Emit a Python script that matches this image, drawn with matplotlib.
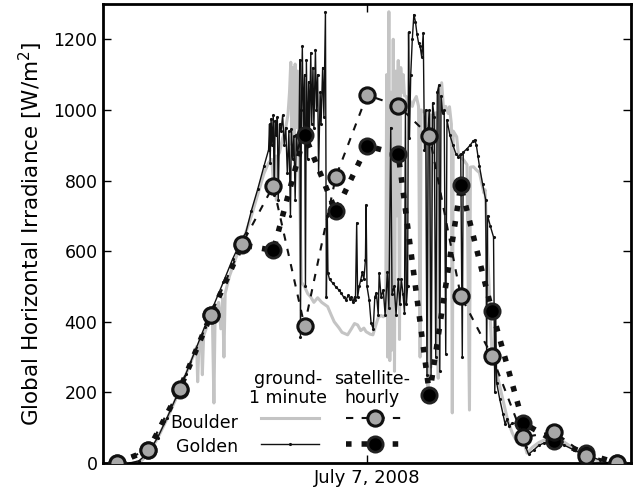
import numpy as np
import matplotlib
matplotlib.use("Agg")
import matplotlib.pyplot as plt

# hourly satellite estimates (local hour)
sat_hours = [5, 6, 7, 8, 9, 10, 11, 12, 13, 14, 15, 16, 17, 18, 19, 20, 21]
sat_boulder = [0, 38, 210, 420, 620, 785, 388, 810, 1042, 1012, 926, 473, 303, 73, 88, 21, 0]
sat_golden = [0, 36, 208, 418, 618, 602, 930, 713, 898, 875, 194, 786, 431, 113, 63, 27, 0]

boulder_ground = [
    (5.55, 0), (5.8, 8), (6.0, 25), (6.3, 70), (6.6, 125), (6.9, 185), (7.2, 250),
    (7.45, 305), (7.55, 330), (7.58, 230), (7.62, 335), (7.7, 355), (7.73, 250),
    (7.77, 360), (7.85, 380), (7.95, 405), (8.05, 420), (8.1, 170), (8.14, 430),
    (8.25, 455), (8.32, 380), (8.38, 465), (8.42, 300), (8.46, 480), (8.6, 530),
    (8.8, 580), (9.0, 625), (9.12, 652), (9.3, 700), (9.5, 760), (9.7, 820),
    (9.85, 850), (9.95, 860), (10.0, 800), (10.05, 870), (10.1, 745), (10.13, 868),
    (10.2, 880), (10.3, 920), (10.4, 950), (10.47, 986), (10.52, 1050), (10.56, 1135),
    (10.6, 900), (10.63, 1120), (10.67, 870), (10.7, 1130), (10.74, 950), (10.78, 1110),
    (10.82, 868), (10.86, 700), (10.9, 512), (11.0, 500), (11.1, 480), (11.2, 470),
    (11.3, 455), (11.42, 468), (11.55, 455), (11.74, 443), (11.85, 420), (11.95, 400),
    (12.1, 383), (12.2, 370), (12.38, 363), (12.5, 380), (12.6, 395), (12.7, 391),
    (12.8, 375), (12.9, 382), (12.97, 372), (13.1, 365), (13.19, 363), (13.28, 390),
    (13.36, 412), (13.45, 418), (13.52, 414), (13.6, 420), (13.63, 1100), (13.66, 300),
    (13.7, 1278), (13.73, 290), (13.77, 1050), (13.8, 320), (13.84, 1200), (13.88, 260),
    (13.92, 1110), (13.96, 700), (14.0, 1140), (14.04, 350), (14.08, 1120), (14.12, 1050),
    (14.16, 1100), (14.2, 1040), (14.26, 1038), (14.3, 1020), (14.36, 1029), (14.45, 1010),
    (14.5, 1025), (14.58, 1038), (14.65, 1010), (14.7, 300), (14.73, 1000), (14.8, 995),
    (14.9, 992), (14.95, 180), (14.98, 990), (15.05, 272), (15.08, 985), (15.15, 990),
    (15.22, 992), (15.28, 240), (15.31, 990), (15.39, 1077), (15.45, 1000), (15.52, 1010),
    (15.6, 990), (15.64, 1009), (15.7, 960), (15.73, 142), (15.76, 940), (15.87, 924),
    (15.92, 878), (16.0, 865), (16.09, 859), (16.2, 845), (16.28, 150), (16.31, 838),
    (16.41, 839), (16.5, 830), (16.6, 822), (16.74, 765), (16.78, 774), (16.83, 652),
    (16.9, 520), (16.95, 400), (17.0, 312), (17.15, 255), (17.3, 198), (17.5, 122),
    (17.65, 85), (17.8, 60), (17.96, 78), (18.12, 28), (18.3, 45), (18.5, 58),
    (18.8, 70), (19.0, 75), (19.3, 60), (19.6, 42), (19.9, 25), (20.2, 12),
    (20.5, 3), (20.7, 0),
]

golden_ground = [
    (5.4, 0), (5.7, 6), (6.0, 30), (6.3, 72), (6.6, 128), (6.9, 188), (7.2, 252),
    (7.5, 318), (7.8, 385), (8.1, 448), (8.4, 512), (8.7, 578), (9.0, 635), (9.12, 652),
    (9.3, 715), (9.5, 775), (9.7, 840), (9.85, 887), (9.88, 960), (9.9, 850), (9.93, 975),
    (9.96, 900), (10.0, 985), (10.03, 760), (10.06, 970), (10.1, 930), (10.13, 980),
    (10.16, 745), (10.2, 960), (10.25, 940), (10.3, 985), (10.35, 900), (10.4, 950),
    (10.45, 820), (10.5, 940), (10.55, 700), (10.58, 945), (10.62, 860), (10.66, 925),
    (10.7, 745), (10.74, 930), (10.78, 880), (10.82, 900), (10.85, 1142), (10.87, 357),
    (10.9, 1000), (10.93, 1180), (10.96, 950), (11.0, 1100), (11.03, 500), (11.06, 1142),
    (11.1, 860), (11.13, 1080), (11.16, 940), (11.2, 1162), (11.23, 960), (11.27, 1120),
    (11.3, 950), (11.35, 1171), (11.38, 1000), (11.42, 1100), (11.45, 820), (11.5, 1050),
    (11.53, 960), (11.58, 1120), (11.62, 980), (11.67, 1278), (11.7, 470), (11.73, 700),
    (11.75, 538), (11.8, 520), (11.9, 510), (12.0, 499), (12.1, 490), (12.17, 482),
    (12.25, 470), (12.33, 462), (12.4, 475), (12.45, 465), (12.5, 470), (12.55, 455),
    (12.6, 470), (12.63, 462), (12.67, 680), (12.7, 470), (12.75, 500), (12.8, 519),
    (12.85, 540), (12.9, 520), (12.95, 575), (12.97, 731), (13.0, 500), (13.07, 462),
    (13.13, 397), (13.2, 380), (13.25, 470), (13.3, 482), (13.36, 420), (13.39, 538),
    (13.45, 470), (13.52, 490), (13.58, 420), (13.65, 540), (13.7, 440), (13.76, 950),
    (13.8, 480), (13.87, 500), (13.93, 420), (14.0, 520), (14.05, 450), (14.1, 520),
    (14.15, 480), (14.2, 425), (14.23, 1000), (14.26, 450), (14.3, 500), (14.33, 1220),
    (14.36, 920), (14.4, 1100), (14.45, 1200), (14.5, 1270), (14.55, 1250), (14.6, 1215),
    (14.65, 1190), (14.7, 1180), (14.75, 1150), (14.8, 1218), (14.84, 887), (14.88, 1000),
    (14.92, 250), (14.96, 950), (15.0, 1000), (15.05, 240), (15.1, 1020), (15.15, 980),
    (15.2, 300), (15.25, 1050), (15.3, 1070), (15.33, 260), (15.37, 1040), (15.42, 990),
    (15.47, 1000), (15.52, 310), (15.56, 972), (15.65, 930), (15.75, 900), (15.85, 875),
    (15.92, 868), (16.0, 875), (16.05, 300), (16.08, 880), (16.2, 890), (16.3, 900),
    (16.4, 912), (16.45, 915), (16.5, 900), (16.55, 870), (16.6, 840), (16.7, 790),
    (16.8, 745), (16.83, 292), (16.86, 700), (16.95, 670), (17.05, 640), (17.09, 200),
    (17.12, 420), (17.15, 227), (17.25, 180), (17.35, 140), (17.42, 110), (17.48, 125),
    (17.55, 105), (17.65, 112), (17.8, 113), (17.96, 85), (18.08, 45), (18.17, 25),
    (18.34, 37), (18.5, 50), (18.65, 56), (18.98, 65), (19.3, 51), (19.62, 37),
    (20.0, 23), (20.47, 8), (20.7, 0),
]

bt, bv = np.array(boulder_ground).T
gt, gv = np.array(golden_ground).T

plt.rcParams['font.family'] = ['DejaVu Sans']
plt.rcParams['font.size'] = 12.5

fig = plt.figure(figsize=(6.38, 4.92), dpi=100)
ax = fig.add_axes([103 / 638, 1 - 463 / 492, 528 / 638, 459 / 492])

gray_line, = ax.plot(bt, bv, color='#c4c4c4', lw=2.2, zorder=1)
black_line, = ax.plot(gt, gv, color='#111111', lw=1.0, marker='.', ms=2.5, zorder=2)
sat_g, = ax.plot(sat_hours, sat_golden, color='#111111', lw=4,
                 linestyle=(0, (1, 1.8)), dash_capstyle='butt',
                 marker='o', ms=11, mfc='black', mec='#222222', mew=2, zorder=3)
sat_b, = ax.plot(sat_hours, sat_boulder, color='#111111', lw=1.5,
                 linestyle=(0, (3.5, 4)), marker='o', ms=11, mfc='#a8a8a8',
                 mec='#111111', mew=2.2, zorder=4)

ax.set_xlim(4.55, 21.45)
ax.set_ylim(0, 1300)
ax.set_yticks([0, 200, 400, 600, 800, 1000, 1200])
ax.set_xticks([13])
ax.set_xticklabels([''])
ax.tick_params(direction='in', length=6, width=1, top=True, right=True, pad=4)
for s in ax.spines.values():
    s.set_linewidth(2)

ax.set_ylabel('Global Horizontal Irradiance [W/m$^2$]', fontsize=15.5, labelpad=6)
ax.set_xlabel('July 7, 2008', fontsize=13, labelpad=0)

leg = ax.legend([gray_line, black_line, sat_b, sat_g], ['', '', '', ''], ncol=2,
                frameon=False, loc='upper left', bbox_to_anchor=(0.30, 0.115),
                handlelength=3.3, handletextpad=0, columnspacing=1.6,
                labelspacing=0.45, borderpad=0, borderaxespad=0)
ax.text(0.255, 0.088, 'Boulder', transform=ax.transAxes, ha='right', va='center')
ax.text(0.255, 0.035, 'Golden', transform=ax.transAxes, ha='right', va='center')
ax.text(0.35, 0.162, 'ground-\n1 minute', transform=ax.transAxes, ha='center',
        va='center', linespacing=1.1)
ax.text(0.51, 0.162, 'satellite-\nhourly', transform=ax.transAxes, ha='center',
        va='center', linespacing=1.1)

fig.savefig('out.png', dpi=100)
